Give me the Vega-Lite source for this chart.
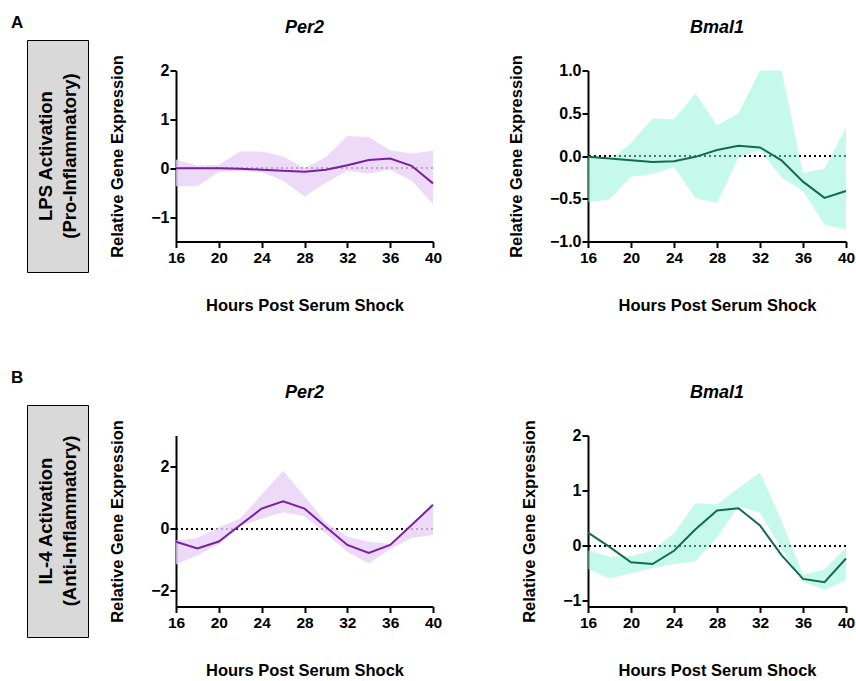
{
  "$schema": "https://vega.github.io/schema/vega-lite/v6.json",
  "padding": {"left": 10, "top": 13, "right": 5, "bottom": 5},
  "background": "white",
  "config": {
    "font": "Liberation Sans",
    "view": {"stroke": null},
    "axis": {"grid": false, "domainColor": "black", "domainWidth": 2, "tickColor": "black", "tickWidth": 2, "tickSize": 6,
             "labelFont": "Liberation Sans", "labelFontSize": 15.5, "labelFontWeight": "bold", "labelColor": "black",
             "titleFont": "Liberation Sans", "titleFontSize": 16, "titleFontWeight": "bold", "titleColor": "black"},
    "axisX": {"labelPadding": 3, "titlePadding": 31, "labelFlush": false, "titleFontSize": 16.5},
    "axisY": {"labelPadding": 1, "titlePadding": 25, "titleFontSize": 16.5, "labelFontSize": 16},
    "title": {"font": "Liberation Sans", "fontSize": 18, "fontWeight": "bold", "fontStyle": "italic", "color": "black", "baseline": "alphabetic", "offset": 18}
  },
  "datasets": {
    "per2a": [
      {"t": 16, "mean": 0.0, "lo": -0.37, "hi": 0.18},
      {"t": 18, "mean": 0.0, "lo": -0.37, "hi": 0.05},
      {"t": 20, "mean": 0.0, "lo": -0.08, "hi": 0.07},
      {"t": 22, "mean": -0.01, "lo": -0.05, "hi": 0.34},
      {"t": 24, "mean": -0.03, "lo": -0.08, "hi": 0.34},
      {"t": 26, "mean": -0.05, "lo": -0.25, "hi": 0.24},
      {"t": 28, "mean": -0.07, "lo": -0.58, "hi": 0.0},
      {"t": 30, "mean": -0.03, "lo": -0.3, "hi": 0.23},
      {"t": 32, "mean": 0.06, "lo": -0.05, "hi": 0.66},
      {"t": 34, "mean": 0.17, "lo": -0.11, "hi": 0.64},
      {"t": 36, "mean": 0.2, "lo": -0.03, "hi": 0.37},
      {"t": 38, "mean": 0.05, "lo": -0.25, "hi": 0.3},
      {"t": 40, "mean": -0.31, "lo": -0.74, "hi": 0.36}
    ],
    "bmal1a": [
      {"t": 16, "mean": -0.01, "lo": -0.54, "hi": 0.0},
      {"t": 18, "mean": -0.03, "lo": -0.51, "hi": -0.05},
      {"t": 20, "mean": -0.05, "lo": -0.24, "hi": 0.15},
      {"t": 22, "mean": -0.07, "lo": -0.21, "hi": 0.44},
      {"t": 24, "mean": -0.06, "lo": -0.13, "hi": 0.43},
      {"t": 26, "mean": -0.01, "lo": -0.49, "hi": 0.73},
      {"t": 28, "mean": 0.07, "lo": -0.55, "hi": 0.36},
      {"t": 30, "mean": 0.12, "lo": -0.02, "hi": 0.5},
      {"t": 32, "mean": 0.1, "lo": 0.07, "hi": 1.0},
      {"t": 34, "mean": -0.05, "lo": -0.25, "hi": 1.0},
      {"t": 36, "mean": -0.3, "lo": -0.41, "hi": -0.2},
      {"t": 38, "mean": -0.49, "lo": -0.8, "hi": -0.15},
      {"t": 40, "mean": -0.41, "lo": -0.86, "hi": 0.33}
    ],
    "per2b": [
      {"t": 16, "mean": -0.42, "lo": -1.15, "hi": -0.38},
      {"t": 18, "mean": -0.63, "lo": -0.85, "hi": -0.3},
      {"t": 20, "mean": -0.41, "lo": -0.5, "hi": 0.05},
      {"t": 22, "mean": 0.12, "lo": 0.1, "hi": 0.33},
      {"t": 24, "mean": 0.65, "lo": 0.32, "hi": 1.1},
      {"t": 26, "mean": 0.88, "lo": 0.53, "hi": 1.87},
      {"t": 28, "mean": 0.65, "lo": 0.4, "hi": 1.05},
      {"t": 30, "mean": 0.06, "lo": -0.15, "hi": 0.2},
      {"t": 32, "mean": -0.52, "lo": -0.75, "hi": -0.25},
      {"t": 34, "mean": -0.78, "lo": -1.12, "hi": -0.42},
      {"t": 36, "mean": -0.52, "lo": -0.65, "hi": -0.48},
      {"t": 38, "mean": 0.12, "lo": -0.3, "hi": 0.1},
      {"t": 40, "mean": 0.77, "lo": -0.2, "hi": 0.77}
    ],
    "bmal1b": [
      {"t": 16, "mean": 0.24, "lo": -0.42, "hi": -0.08},
      {"t": 18, "mean": -0.02, "lo": -0.59, "hi": -0.2},
      {"t": 20, "mean": -0.3, "lo": -0.5, "hi": -0.19},
      {"t": 22, "mean": -0.33, "lo": -0.4, "hi": -0.09},
      {"t": 24, "mean": -0.09, "lo": -0.33, "hi": 0.23},
      {"t": 26, "mean": 0.3, "lo": -0.28, "hi": 0.77},
      {"t": 28, "mean": 0.64, "lo": 0.15, "hi": 0.75},
      {"t": 30, "mean": 0.68, "lo": 0.72, "hi": 1.05},
      {"t": 32, "mean": 0.37, "lo": 0.6, "hi": 1.33},
      {"t": 34, "mean": -0.17, "lo": -0.05, "hi": 0.45},
      {"t": 36, "mean": -0.6, "lo": -0.65, "hi": -0.53},
      {"t": 38, "mean": -0.66, "lo": -0.8, "hi": -0.43},
      {"t": 40, "mean": -0.23, "lo": -0.62, "hi": -0.03}
    ]
  },
  "spacing": 54,
  "vconcat": [
    {
      "bounds": "flush",
      "center": true,
      "spacing": 10,
      "hconcat": [
        {
          "width": 61, "height": 232,
          "view": {"fill": "#d9d9d9", "stroke": "black", "strokeWidth": 1},
          "title": {"text": "A", "anchor": "start", "dx": -16, "offset": 8, "fontSize": 17, "fontStyle": "normal"},
          "data": {"values": [{"label": "LPS Activation\n(Pro-Inflammatory)"}]},
          "mark": {"type": "text", "angle": 270, "lineBreak": "\n", "fontSize": 18.5, "fontWeight": "bold", "lineHeight": 24, "baseline": "middle", "align": "center", "dy": -12, "color": "black"},
          "encoding": {"text": {"field": "label"}}
        },
        {"width": 68, "height": 10, "data": {"values": []}, "mark": "point"},
        {
          "width": 257, "height": 171,
          "title": "Per2",
          "data": {"name": "per2a"},
          "layer": [
            {"mark": {"type": "rule", "color": "black", "strokeDash": [1.5, 3.5], "strokeWidth": 1.5}, "encoding": {"y": {"datum": 0, "type": "quantitative"}}},
            {"mark": {"type": "area", "color": "#e8cff6", "opacity": 0.8},
             "encoding": {
               "x": {"field": "t", "type": "quantitative", "scale": {"domain": [16, 40], "nice": false, "zero": false}, "axis": {"values": [16, 20, 24, 28, 32, 36, 40], "title": "Hours Post Serum Shock"}},
               "y": {"field": "lo", "type": "quantitative", "scale": {"domain": [-1.5, 2], "nice": false, "zero": false}, "axis": {"values": [-1, 0, 1, 2], "format": "d", "title": "Relative Gene Expression"}},
               "y2": {"field": "hi"}}},
            {"mark": {"type": "line", "color": "#7b1fa2", "strokeWidth": 2},
             "encoding": {"x": {"field": "t", "type": "quantitative"}, "y": {"field": "mean", "type": "quantitative"}}}
          ]
        },
        {"width": 135, "height": 10, "data": {"values": []}, "mark": "point"},
        {
          "width": 258, "height": 171,
          "title": "Bmal1",
          "data": {"name": "bmal1a"},
          "layer": [
            {"mark": {"type": "rule", "color": "black", "strokeDash": [1.5, 3.5], "strokeWidth": 1.5}, "encoding": {"y": {"datum": 0, "type": "quantitative"}}},
            {"mark": {"type": "area", "color": "#8cf4d6", "opacity": 0.5},
             "encoding": {
               "x": {"field": "t", "type": "quantitative", "scale": {"domain": [16, 40], "nice": false, "zero": false}, "axis": {"values": [16, 20, 24, 28, 32, 36, 40], "title": "Hours Post Serum Shock"}},
               "y": {"field": "lo", "type": "quantitative", "scale": {"domain": [-1, 1], "nice": false, "zero": false}, "axis": {"values": [-1, -0.5, 0, 0.5, 1], "format": ".1f", "title": "Relative Gene Expression"}},
               "y2": {"field": "hi"}}},
            {"mark": {"type": "line", "color": "#146b4b", "strokeWidth": 2},
             "encoding": {"x": {"field": "t", "type": "quantitative"}, "y": {"field": "mean", "type": "quantitative"}}}
          ]
        }
      ]
    },
    {
      "bounds": "flush",
      "center": true,
      "spacing": 10,
      "hconcat": [
        {
          "width": 61, "height": 232,
          "view": {"fill": "#d9d9d9", "stroke": "black", "strokeWidth": 1},
          "title": {"text": "B", "anchor": "start", "dx": -16, "offset": 18, "fontSize": 17, "fontStyle": "normal"},
          "data": {"values": [{"label": "IL-4 Activation\n(Anti-Inflammatory)"}]},
          "mark": {"type": "text", "angle": 270, "lineBreak": "\n", "fontSize": 18.5, "fontWeight": "bold", "lineHeight": 24, "baseline": "middle", "align": "center", "dy": -12, "color": "black"},
          "encoding": {"text": {"field": "label"}}
        },
        {"width": 68, "height": 10, "data": {"values": []}, "mark": "point"},
        {
          "width": 257, "height": 171,
          "title": "Per2",
          "data": {"name": "per2b"},
          "layer": [
            {"mark": {"type": "rule", "color": "black", "strokeDash": [1.5, 3.5], "strokeWidth": 1.5}, "encoding": {"y": {"datum": 0, "type": "quantitative"}}},
            {"mark": {"type": "area", "color": "#e8cff6", "opacity": 0.8},
             "encoding": {
               "x": {"field": "t", "type": "quantitative", "scale": {"domain": [16, 40], "nice": false, "zero": false}, "axis": {"values": [16, 20, 24, 28, 32, 36, 40], "title": "Hours Post Serum Shock"}},
               "y": {"field": "lo", "type": "quantitative", "scale": {"domain": [-2.5, 3], "nice": false, "zero": false}, "axis": {"values": [-2, 0, 2], "format": "d", "title": "Relative Gene Expression"}},
               "y2": {"field": "hi"}}},
            {"mark": {"type": "line", "color": "#7b1fa2", "strokeWidth": 2},
             "encoding": {"x": {"field": "t", "type": "quantitative"}, "y": {"field": "mean", "type": "quantitative"}}}
          ]
        },
        {"width": 135, "height": 10, "data": {"values": []}, "mark": "point"},
        {
          "width": 258, "height": 171,
          "title": "Bmal1",
          "data": {"name": "bmal1b"},
          "layer": [
            {"mark": {"type": "rule", "color": "black", "strokeDash": [1.5, 3.5], "strokeWidth": 1.5}, "encoding": {"y": {"datum": 0, "type": "quantitative"}}},
            {"mark": {"type": "area", "color": "#8cf4d6", "opacity": 0.5},
             "encoding": {
               "x": {"field": "t", "type": "quantitative", "scale": {"domain": [16, 40], "nice": false, "zero": false}, "axis": {"values": [16, 20, 24, 28, 32, 36, 40], "title": "Hours Post Serum Shock"}},
               "y": {"field": "lo", "type": "quantitative", "scale": {"domain": [-1.1, 2], "nice": false, "zero": false}, "axis": {"values": [-1, 0, 1, 2], "format": "d", "title": "Relative Gene Expression"}},
               "y2": {"field": "hi"}}},
            {"mark": {"type": "line", "color": "#146b4b", "strokeWidth": 2},
             "encoding": {"x": {"field": "t", "type": "quantitative"}, "y": {"field": "mean", "type": "quantitative"}}}
          ]
        }
      ]
    }
  ]
}
